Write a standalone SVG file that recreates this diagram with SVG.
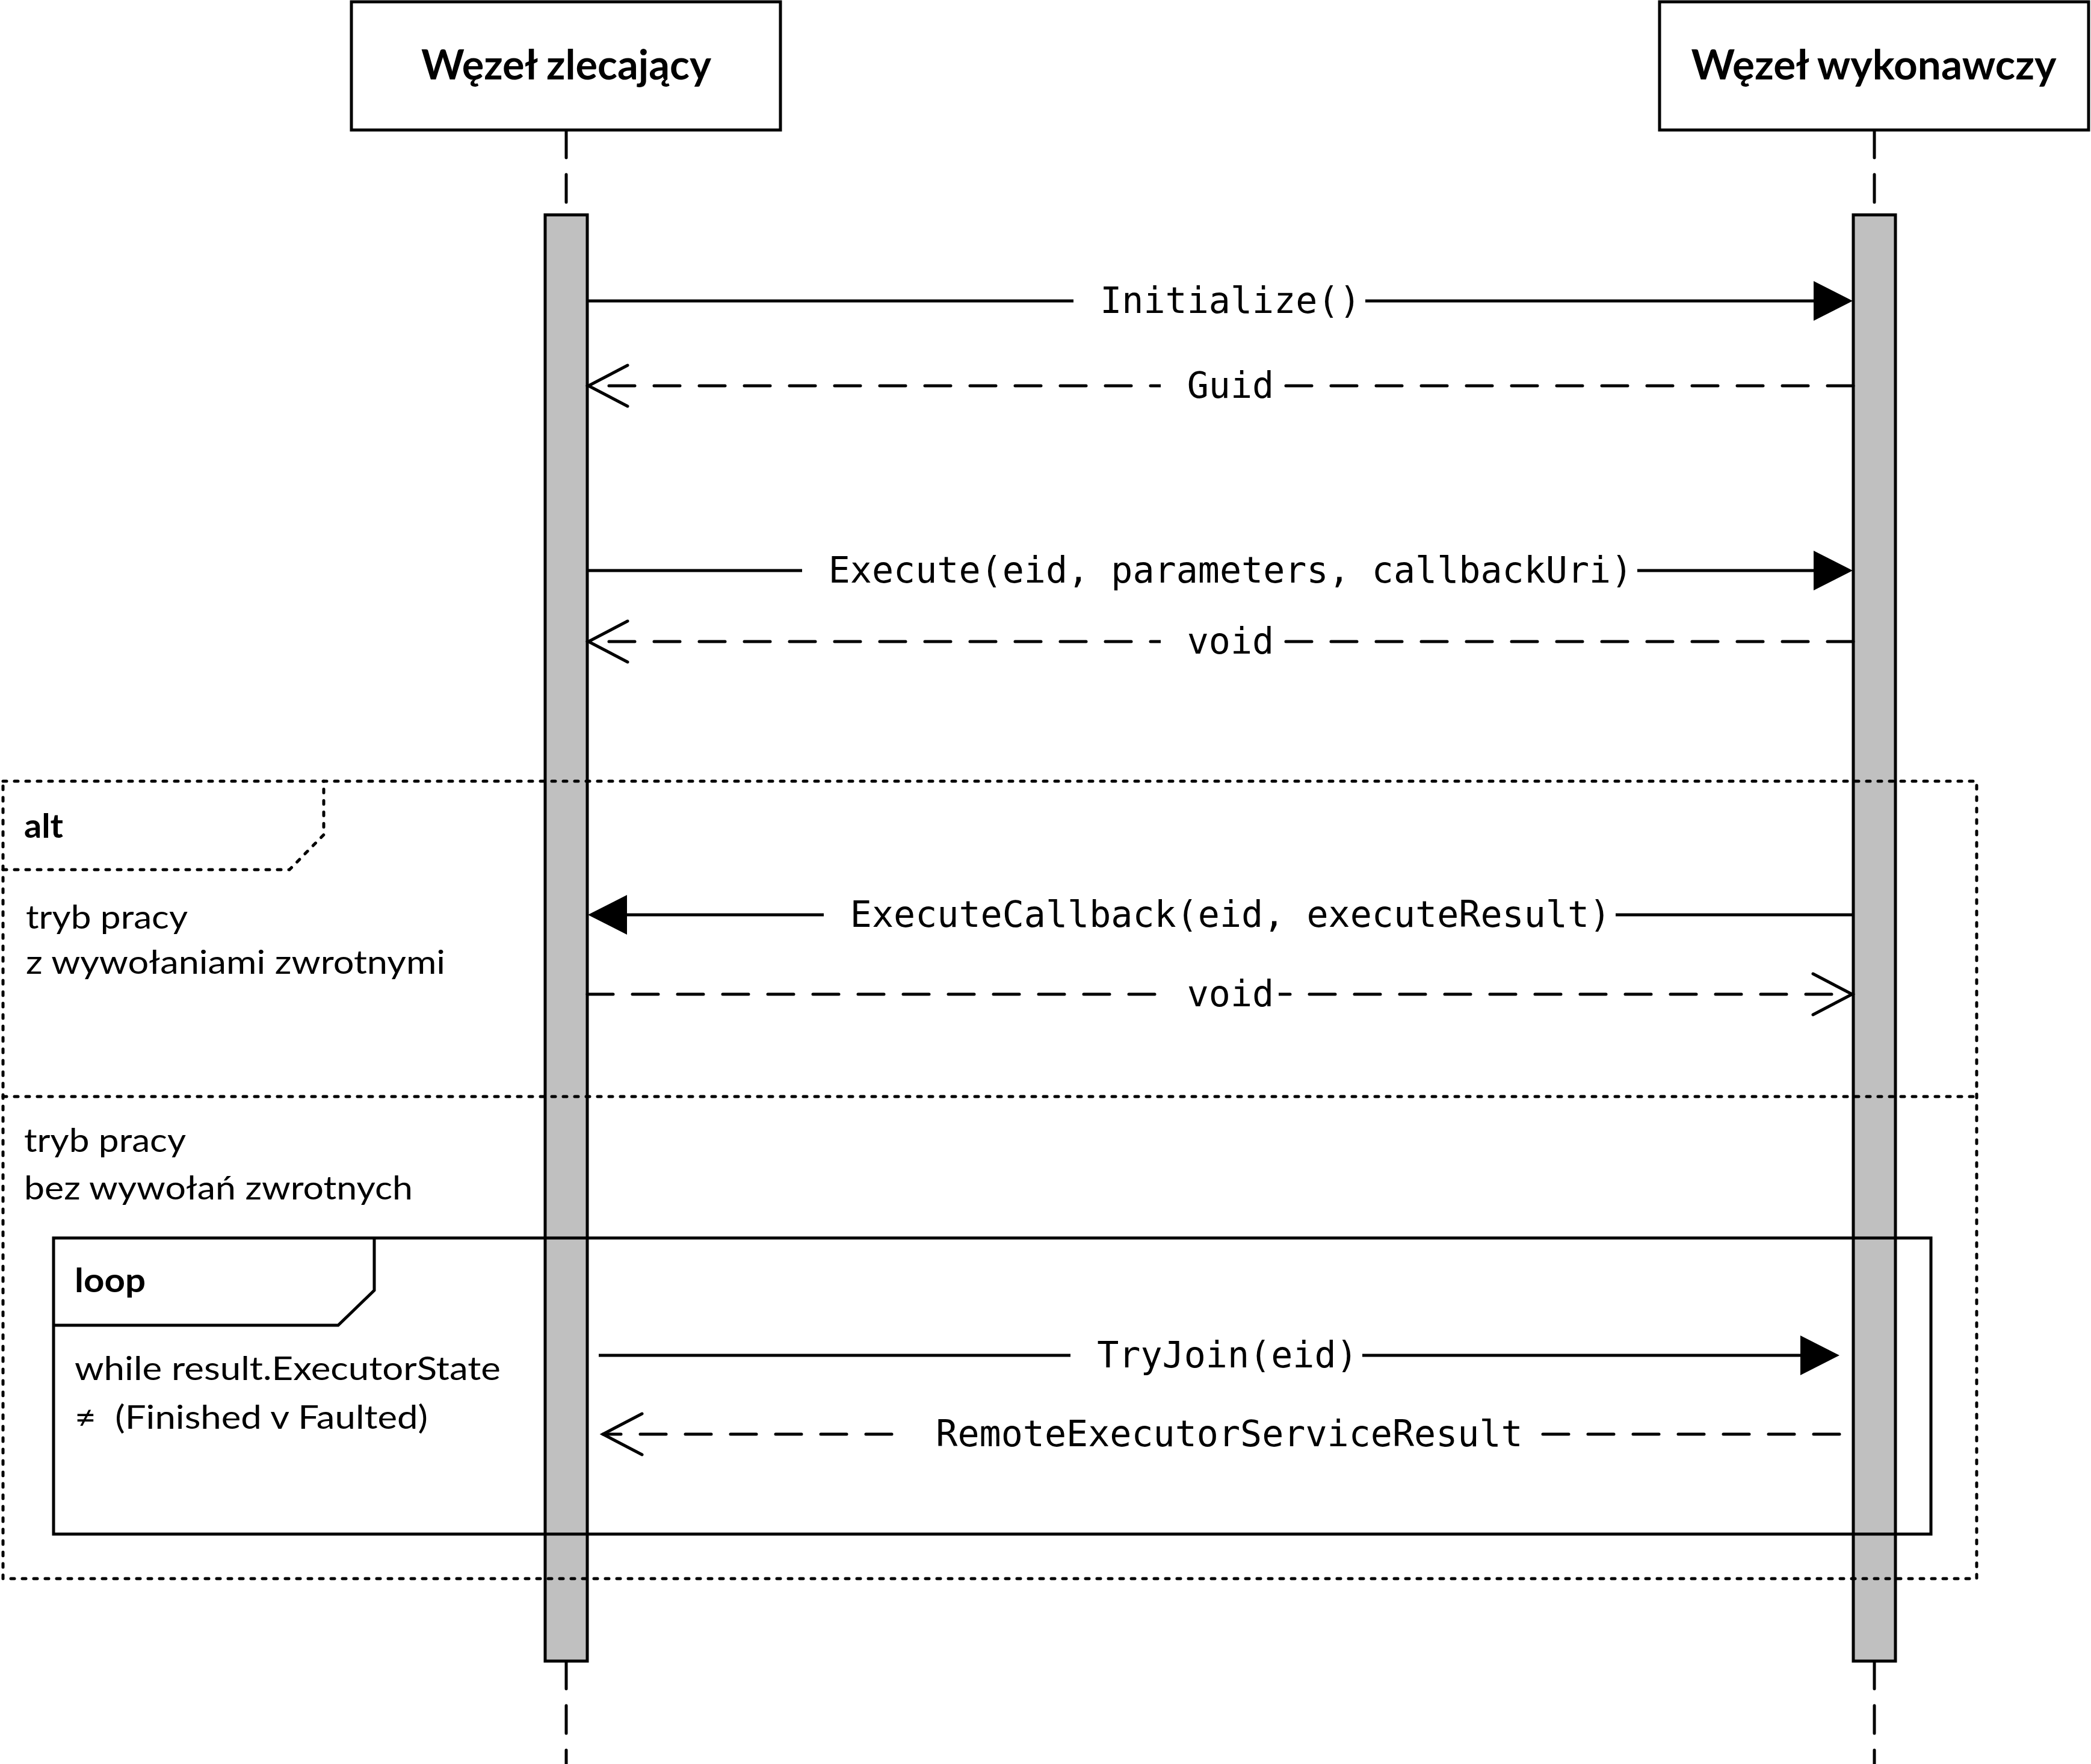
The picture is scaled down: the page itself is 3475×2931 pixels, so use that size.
<svg xmlns="http://www.w3.org/2000/svg" width="3475" height="2931" viewBox="0 0 3475 2931">
<defs>
<style>
.box{fill:#ffffff;stroke:#000;stroke-width:5}
.act{fill:#c0c0c0;stroke:#000;stroke-width:5}
.life{fill:none;stroke:#000;stroke-width:5;stroke-dasharray:46 28;stroke-linecap:round}
.msg{fill:none;stroke:#000;stroke-width:5}
.ret{fill:none;stroke:#000;stroke-width:5;stroke-dasharray:43 32;stroke-linecap:round}
.dot{fill:none;stroke:#000;stroke-width:5;stroke-dasharray:6 13;stroke-linecap:round}
.solidframe{fill:none;stroke:#000;stroke-width:5}
.lblbg{fill:#ffffff;stroke:none}
.head{font-family:"Lato","Liberation Sans",sans-serif;font-weight:bold;font-size:68px;fill:#000}
.mono{font-family:"DejaVu Sans Mono","Liberation Mono",monospace;font-size:60px;fill:#000}
.body{font-family:"Lato","Liberation Sans",sans-serif;font-size:55px;fill:#000}
.bold{font-family:"Lato","Liberation Sans",sans-serif;font-weight:bold;font-size:55px;fill:#000}
</style>
<marker id="filled" markerUnits="userSpaceOnUse" markerWidth="70" markerHeight="70" viewBox="0 0 70 70" refX="0" refY="33" orient="auto" overflow="visible">
<path d="M0,0 L65,33 L0,66 Z" fill="#000"/>
</marker>
<marker id="open" markerUnits="userSpaceOnUse" markerWidth="70" markerHeight="70" viewBox="0 0 70 70" refX="65" refY="34" orient="auto" overflow="visible">
<path d="M0,0 L65,34 L0,68" fill="none" stroke="#000" stroke-width="5" stroke-linecap="round" stroke-linejoin="miter"/>
</marker>
</defs>
<rect x="0" y="0" width="3475" height="2931" fill="#ffffff"/>

<g id="lifelines">
<path class="life" d="M941,216 V357 M941,2760 V2931"/>
<path class="life" d="M3115,216 V357 M3115,2760 V2931"/>
</g>

<g id="node-zlecajacy">
<rect class="box" x="584" y="3" width="713" height="213"/>
<text class="head" x="941" y="132" text-anchor="middle" textLength="482" lengthAdjust="spacingAndGlyphs">Węzeł zlecający</text>
</g>
<g id="node-wykonawczy">
<rect class="box" x="2758" y="3" width="713" height="213"/>
<text class="head" x="3114" y="132" text-anchor="middle" textLength="607" lengthAdjust="spacingAndGlyphs">Węzeł wykonawczy</text>
</g>

<g id="activation-zlecajacy">
<rect class="act" x="906" y="357" width="70" height="2403"/>
</g>
<g id="activation-wykonawczy">
<rect class="act" x="3080" y="357" width="70" height="2403"/>
</g>

<g id="frame-alt">
<rect class="dot" x="5" y="1298" width="3280" height="1325"/>
<path class="dot" d="M5,1445 H481 L538,1387 V1298"/>
<path class="dot" d="M5,1822 H3285"/>
<text class="bold" x="40" y="1392" textLength="65" lengthAdjust="spacingAndGlyphs">alt</text>
<text class="body" x="43" y="1543" textLength="269" lengthAdjust="spacingAndGlyphs">tryb pracy</text>
<text class="body" x="43" y="1618" textLength="697" lengthAdjust="spacingAndGlyphs">z wywołaniami zwrotnymi</text>
<text class="body" x="40" y="1914" textLength="269" lengthAdjust="spacingAndGlyphs">tryb pracy</text>
<text class="body" x="40" y="1993" textLength="646" lengthAdjust="spacingAndGlyphs">bez wywołań zwrotnych</text>
</g>

<g id="frame-loop">
<rect class="solidframe" x="89" y="2057" width="3120" height="492"/>
<path class="solidframe" d="M89,2202 H562 L622,2144 V2057"/>
<text class="bold" x="124" y="2147" textLength="118" lengthAdjust="spacingAndGlyphs">loop</text>
<text class="body" x="124" y="2293" textLength="708" lengthAdjust="spacingAndGlyphs">while result.ExecutorState</text>
<text class="body" x="124" y="2374" textLength="587" lengthAdjust="spacingAndGlyphs" xml:space="preserve">≠  (Finished v Faulted)</text>
</g>

<g id="connectors">
<g id="msg-initialize">
<path class="msg" d="M976,500 H3014" marker-end="url(#filled)"/>
<rect class="lblbg" x="1784" y="462" width="485" height="76"/>
<text class="mono" x="2045" y="520" text-anchor="middle">Initialize()</text>
</g>
<g id="msg-guid">
<path class="ret" d="M3080,641 H978" marker-end="url(#open)"/>
<rect class="lblbg" x="1929" y="603" width="196" height="76"/>
<text class="mono" x="2045" y="661" text-anchor="middle">Guid</text>
</g>
<g id="msg-execute">
<path class="msg" d="M976,948 H3014" marker-end="url(#filled)"/>
<rect class="lblbg" x="1333" y="910" width="1388" height="76"/>
<text class="mono" x="2045" y="968" text-anchor="middle">Execute(eid, parameters, callbackUri)</text>
</g>
<g id="msg-void1">
<path class="ret" d="M3080,1066 H978" marker-end="url(#open)"/>
<rect class="lblbg" x="1929" y="1028" width="196" height="76"/>
<text class="mono" x="2045" y="1086" text-anchor="middle">void</text>
</g>
<g id="msg-executecallback">
<path class="msg" d="M3080,1520 H1042" marker-end="url(#filled)"/>
<rect class="lblbg" x="1369" y="1482" width="1316" height="76"/>
<text class="mono" x="2045" y="1540" text-anchor="middle">ExecuteCallback(eid, executeResult)</text>
</g>
<g id="msg-void2">
<path class="ret" d="M976,1652 H3078" marker-end="url(#open)"/>
<rect class="lblbg" x="1929" y="1614" width="196" height="76"/>
<text class="mono" x="2045" y="1672" text-anchor="middle">void</text>
</g>
<g id="msg-tryjoin">
<path class="msg" d="M995,2252 H2992" marker-end="url(#filled)"/>
<rect class="lblbg" x="1779" y="2214" width="485" height="76"/>
<text class="mono" x="2040" y="2272" text-anchor="middle">TryJoin(eid)</text>
</g>
<g id="msg-remoteresult">
<path class="ret" d="M3057,2383 H1002" marker-end="url(#open)"/>
<rect class="lblbg" x="1511" y="2345" width="1040" height="76"/>
<text class="mono" x="2043" y="2403" text-anchor="middle">RemoteExecutorServiceResult</text>
</g>
</g>
</svg>
